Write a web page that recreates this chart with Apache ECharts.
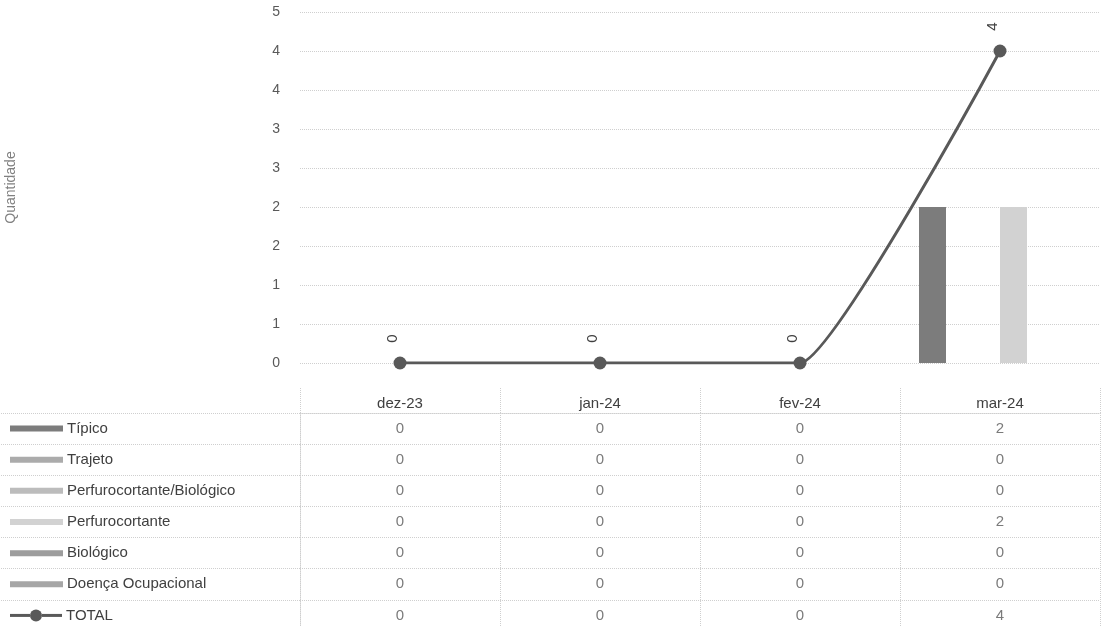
<!DOCTYPE html>
<html>
<head>
<meta charset="utf-8">
<script src="https://cdn.jsdelivr.net/npm/echarts@6/dist/echarts.min.js"></script>
<style>
html,body{margin:0;padding:0;background:#fff;}
#c{width:1101px;height:626px;}
</style>
</head>
<body>
<div id="c"></div>
<script>
var categories = ['dez-23', 'jan-24', 'fev-24', 'mar-24'];
var tipico = [0, 0, 0, 2];
var trajeto = [0, 0, 0, 0];
var perfBio = [0, 0, 0, 0];
var perfuro = [0, 0, 0, 2];
var biologico = [0, 0, 0, 0];
var doenca = [0, 0, 0, 0];
var total = [0, 0, 0, 4];
var seriesNames = ['Típico', 'Trajeto', 'Perfurocortante/Biológico', 'Perfurocortante', 'Biológico', 'Doença Ocupacional', 'TOTAL'];
var yTickLabels = ['0', '1', '1', '2', '2', '3', '3', '4', '4', '5'];

var barColors = ['#7c7c7c', '#ababab', '#bcbcbc', '#d2d2d2', '#9d9d9d', '#a6a6a6'];
var lineColor = '#595959';
var barData = [tipico, trajeto, perfBio, perfuro, biologico, doenca];
var allRows = [tipico, trajeto, perfBio, perfuro, biologico, doenca, total];

var font = 'Liberation Sans, Arial, sans-serif';
var gridLine = {type: 'dotted', color: '#cfcfcf', width: 1};

var cells = [];
allRows.forEach(function (row, r) {
  row.forEach(function (v, c) { cells.push([c, r, v]); });
});

var rich = {
  t: {fontFamily: font, fontSize: 15, color: '#404040', padding: [0, 0, 0, 4], verticalAlign: 'middle'},
  ln: {width: 20, height: 3, backgroundColor: lineColor, verticalAlign: 'middle'},
  dot: {width: 12, height: 12, borderRadius: 6, backgroundColor: lineColor, verticalAlign: 'middle'}
};
barColors.forEach(function (col, i) {
  rich['s' + i] = {width: 53, height: 6, backgroundColor: col, verticalAlign: 'middle'};
});

var series = [];
barData.forEach(function (d, i) {
  series.push({
    name: seriesNames[i], type: 'bar', xAxisIndex: 0, yAxisIndex: 0,
    data: d, barGap: '0%', barCategoryGap: '19%',
    itemStyle: {color: barColors[i]}
  });
});
series.push({
  name: 'TOTAL', type: 'line', xAxisIndex: 0, yAxisIndex: 0, data: total,
  smooth: 0.12, symbol: 'circle', symbolSize: 13,
  lineStyle: {color: lineColor, width: 3},
  itemStyle: {color: lineColor},
  label: {show: true, position: 'top', distance: 18, rotate: 90,
    fontFamily: font, fontSize: 15, color: '#404040'}
});
series.push({
  type: 'scatter', xAxisIndex: 1, yAxisIndex: 1, data: cells,
  symbolSize: 1, itemStyle: {color: 'rgba(0,0,0,0)'}, silent: true,
  label: {show: true, position: 'inside', fontFamily: font, fontSize: 15, color: '#595959',
    formatter: function (p) { return String(p.data[2]); }}
});

var chart = echarts.init(document.getElementById('c'));
chart.setOption({
  animation: false,
  backgroundColor: '#ffffff',
  grid: [
    {left: 300, width: 800, top: 12, height: 351, containLabel: false, outerBoundsMode: 'none'},
    {left: 300, width: 800, top: 413, height: 218, containLabel: false, outerBoundsMode: 'none'}
  ],
  xAxis: [
    {type: 'category', gridIndex: 0, data: categories,
      axisLine: {show: false}, axisTick: {show: false}, axisLabel: {show: false}},
    {type: 'category', gridIndex: 1, data: categories, position: 'top',
      axisLine: {show: true, lineStyle: gridLine},
      axisTick: {show: true, length: 26, lineStyle: gridLine},
      axisLabel: {margin: 2, fontFamily: font, fontSize: 15, color: '#404040'},
      splitLine: {show: true, lineStyle: gridLine}}
  ],
  yAxis: [
    {type: 'value', gridIndex: 0, min: 0, max: 4.5, interval: 0.5,
      name: 'Quantidade', nameLocation: 'middle', nameGap: 282, nameRotate: 90,
      nameTextStyle: {fontFamily: font, fontSize: 14, color: '#808080'},
      axisLine: {show: false}, axisTick: {show: false},
      axisLabel: {margin: 20, fontFamily: font, fontSize: 14, color: '#595959',
        formatter: function (v) { return yTickLabels[Math.round(v / 0.5)]; }},
      splitLine: {show: true, lineStyle: gridLine}},
    {type: 'category', gridIndex: 1, data: seriesNames, inverse: true,
      axisLine: {show: true, lineStyle: gridLine},
      axisTick: {show: true, length: 300, lineStyle: gridLine},
      axisLabel: {align: 'left', margin: 290, rich: rich,
        formatter: function (v, i) {
          if (i === 6) { return '{ln|}{dot|}{ln|}{t|' + v + '}'; }
          return '{s' + i + '|}{t|' + v + '}';
        }},
      splitLine: {show: true, lineStyle: gridLine}}
  ],
  series: series
});
</script>
</body>
</html>
